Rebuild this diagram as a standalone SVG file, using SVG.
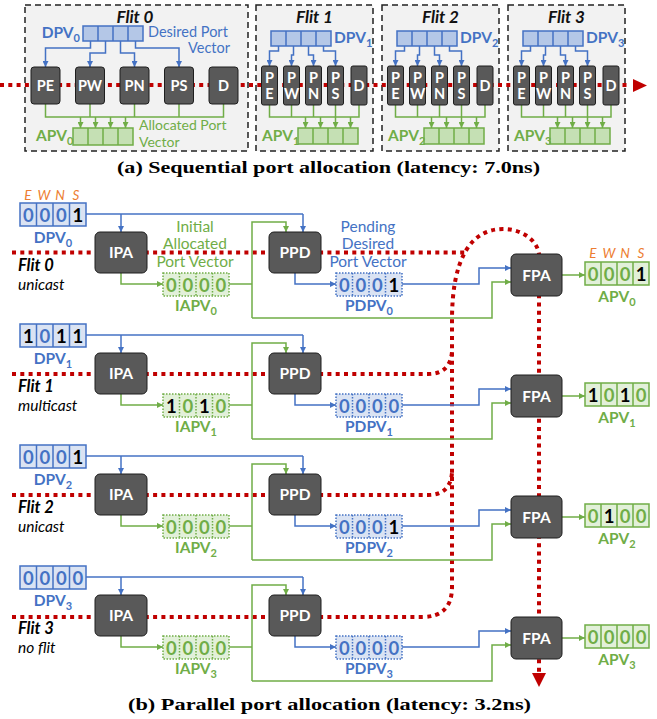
<svg xmlns="http://www.w3.org/2000/svg" width="657" height="719" viewBox="0 0 657 719">
<style>
text{font-family:Lato,"Open Sans","DejaVu Sans",sans-serif}
.fb{fill:#f2f2f2;stroke:#222;stroke-width:1.5;stroke-dasharray:6 4}
.red{fill:none;stroke:#c00000;stroke-width:4;stroke-dasharray:4 4.3}
.bl{fill:none;stroke:#4472c4;stroke-width:1.5}
.gr{fill:none;stroke:#70ad47;stroke-width:1.5}
.ba{marker-end:url(#ab)}
.ga{marker-end:url(#ag)}
.nd{fill:#595959;stroke:#1e1e1e;stroke-width:1}
.nt{fill:#fff;font-weight:bold;font-size:14.5px;text-anchor:middle}
.bt{fill:#fff;font-weight:bold;font-size:15.5px;text-anchor:middle}
.ttl{font-weight:bold;font-style:italic;font-size:17px;fill:#111;text-anchor:middle}
.vb{fill:#b4c7e7;stroke:#4472c4;stroke-width:1.5}
.vg{fill:#c5e0b4;stroke:#70ad47;stroke-width:1.5}
.vb2{fill:#dae3f3;stroke:#4472c4;stroke-width:1.5}
.vg2{fill:#e2f0d9;stroke:#70ad47;stroke-width:1.5}
.vbd{fill:#dae3f3;stroke:#4472c4;stroke-width:1.5;stroke-dasharray:1.5 1.5}
.vgd{fill:#e2f0d9;stroke:#70ad47;stroke-width:1.5;stroke-dasharray:1.5 1.5}
.lb{fill:#4472c4;font-weight:bold;font-size:15.5px}
.lg{fill:#70ad47;font-weight:bold;font-size:15.5px}
.tb{fill:#4472c4;font-size:14.5px}
.tg{fill:#70ad47;font-size:14px}
.tb2{fill:#4472c4;font-size:15.5px;text-anchor:middle}
.tg2{fill:#70ad47;font-size:15.5px;text-anchor:middle}
.d{font-weight:bold;font-size:18.5px;text-anchor:middle}
.db{fill:#4472c4}.dg{fill:#70ad47}.dk{fill:#000}
.or{fill:#ed7d31;font-style:italic;font-size:13.5px;text-anchor:middle}
.fl{font-weight:bold;font-style:italic;font-size:16.5px;fill:#000}
.fs{font-style:italic;font-size:15.5px;fill:#000}
.cap{font-family:"Liberation Serif","Times New Roman",serif;font-weight:bold;font-size:16px;fill:#000;text-anchor:middle}
</style>
<defs>
<marker id="ab" viewBox="0 0 8 8" refX="8" refY="4" markerWidth="6" markerHeight="6" markerUnits="userSpaceOnUse" orient="auto"><path d="M0,0 L8,4 L0,8 z" fill="#4472c4"/></marker>
<marker id="ag" viewBox="0 0 8 8" refX="8" refY="4" markerWidth="6" markerHeight="6" markerUnits="userSpaceOnUse" orient="auto"><path d="M0,0 L8,4 L0,8 z" fill="#70ad47"/></marker>
</defs>

<!-- ===== (a) Sequential ===== -->
<g id="flit-boxes">
<rect class="fb" x="25" y="5" width="223" height="146"/>
<rect class="fb" x="256" y="5" width="117" height="146"/>
<rect class="fb" x="382" y="5" width="117" height="146"/>
<rect class="fb" x="508" y="5" width="117" height="146"/>
<text class="ttl" x="135" y="23">Flit 0</text>
<text class="ttl" x="314.5" y="23">Flit 1</text>
<text class="ttl" x="440.5" y="23">Flit 2</text>
<text class="ttl" x="566.5" y="23">Flit 3</text>
</g>

<g id="top-connectors">
<path class="red" d="M0 85 H629"/>
<polygon points="633,79 647,85.5 633,92" fill="#c00000"/>
<!-- flit 0 -->
<path class="bl ba" d="M90.5 41 V48 H45.5 V67"/>
<path class="bl ba" d="M105.5 41 V53 H90 V67"/>
<path class="bl ba" d="M120.5 41 V53 H134.5 V67"/>
<path class="bl ba" d="M135.5 41 V48 H179 V67"/>
<path class="gr" d="M45.5 104 V117 H223.5 V104 M90 104 V117 M134.5 104 V117 M179 104 V117"/>
<path class="gr ga" d="M80.5 117 V128"/>
<path class="gr ga" d="M95.5 117 V128"/>
<path class="gr ga" d="M110.5 117 V128"/>
<path class="gr ga" d="M125.5 117 V128"/>
<!-- flit 1 -->
<path class="bl ba" d="M278.5 46 V51 H269.5 V66"/>
<path class="bl ba" d="M293.5 46 V55 H291.5 V66"/>
<path class="bl ba" d="M308.5 46 V55 H313.5 V66"/>
<path class="bl ba" d="M323.5 46 V51 H335.5 V66"/>
<path class="gr" d="M269.5 105 V117 H359 V105 M291.5 105 V117 M313.5 105 V117 M335.5 105 V117"/>
<path class="gr ga" d="M305.5 117 V128"/>
<path class="gr ga" d="M320.5 117 V128"/>
<path class="gr ga" d="M335.5 117 V128"/>
<path class="gr ga" d="M350.5 117 V128"/>
<!-- flit 2 -->
<path class="bl ba" d="M404.5 46 V51 H395.5 V66"/>
<path class="bl ba" d="M419.5 46 V55 H417.5 V66"/>
<path class="bl ba" d="M434.5 46 V55 H439.5 V66"/>
<path class="bl ba" d="M449.5 46 V51 H461.5 V66"/>
<path class="gr" d="M395.5 105 V117 H485 V105 M417.5 105 V117 M439.5 105 V117 M461.5 105 V117"/>
<path class="gr ga" d="M431.5 117 V128"/>
<path class="gr ga" d="M446.5 117 V128"/>
<path class="gr ga" d="M461.5 117 V128"/>
<path class="gr ga" d="M476.5 117 V128"/>
<!-- flit 3 -->
<path class="bl ba" d="M530.5 46 V51 H521.5 V66"/>
<path class="bl ba" d="M545.5 46 V55 H543.5 V66"/>
<path class="bl ba" d="M560.5 46 V55 H565.5 V66"/>
<path class="bl ba" d="M575.5 46 V51 H587.5 V66"/>
<path class="gr" d="M521.5 105 V117 H611 V105 M543.5 105 V117 M565.5 105 V117 M587.5 105 V117"/>
<path class="gr ga" d="M557.5 117 V128"/>
<path class="gr ga" d="M572.5 117 V128"/>
<path class="gr ga" d="M587.5 117 V128"/>
<path class="gr ga" d="M602.5 117 V128"/>
</g>

<!-- flit 0 nodes -->
<g id="f0-dpv"><rect class="vb" x="83" y="26" width="60" height="15"/><path class="bl" d="M98 26 V41 M113 26 V41 M128 26 V41"/>
<text class="lb" x="80" y="38" text-anchor="end">DPV<tspan font-size="11" dy="4">0</tspan></text>
<text class="tb" x="148" y="37">Desired Port</text><text class="tb" x="230" y="53" text-anchor="end">Vector</text></g>
<g id="f0-PE"><rect class="nd" x="31" y="67" width="29" height="37" rx="3"/><text class="nt" x="45.5" y="90.5">PE</text></g>
<g id="f0-PW"><rect class="nd" x="75.5" y="67" width="29" height="37" rx="3"/><text class="nt" x="90" y="90.5">PW</text></g>
<g id="f0-PN"><rect class="nd" x="120" y="67" width="29" height="37" rx="3"/><text class="nt" x="134.5" y="90.5">PN</text></g>
<g id="f0-PS"><rect class="nd" x="164.5" y="67" width="29" height="37" rx="3"/><text class="nt" x="179" y="90.5">PS</text></g>
<g id="f0-D"><rect class="nd" x="209" y="67" width="29" height="37" rx="3"/><text class="nt" x="223.5" y="90.5">D</text></g>
<g id="f0-apv"><rect class="vg" x="73" y="128" width="60" height="17"/><path class="gr" d="M88 128 V145 M103 128 V145 M118 128 V145"/>
<text class="lg" x="36" y="141">APV<tspan font-size="11" dy="4">0</tspan></text>
<text class="tg" x="139" y="130">Allocated Port</text><text class="tg" x="139" y="147">Vector</text></g>

<!-- flit 1 -->
<g id="f1-dpv"><rect class="vb" x="271" y="31" width="60" height="15"/><path class="bl" d="M286 31 V46 M301 31 V46 M316 31 V46"/>
<text class="lb" x="334" y="43">DPV<tspan font-size="11" dy="4">1</tspan></text></g>
<g id="f1-PE"><rect class="nd" x="261.5" y="66" width="16" height="39" rx="2"/><text class="nt" x="269.5" y="83">P</text><text class="nt" x="269.5" y="99">E</text></g>
<g id="f1-PW"><rect class="nd" x="283.5" y="66" width="16" height="39" rx="2"/><text class="nt" x="291.5" y="83">P</text><text class="nt" x="291.5" y="99">W</text></g>
<g id="f1-PN"><rect class="nd" x="305.5" y="66" width="16" height="39" rx="2"/><text class="nt" x="313.5" y="83">P</text><text class="nt" x="313.5" y="99">N</text></g>
<g id="f1-PS"><rect class="nd" x="327.5" y="66" width="16" height="39" rx="2"/><text class="nt" x="335.5" y="83">P</text><text class="nt" x="335.5" y="99">S</text></g>
<g id="f1-D"><rect class="nd" x="351" y="66" width="16" height="39" rx="2"/><text class="nt" x="359" y="91">D</text></g>
<g id="f1-apv"><rect class="vg" x="298" y="128" width="60" height="16"/><path class="gr" d="M313 128 V144 M328 128 V144 M343 128 V144"/>
<text class="lg" x="262" y="141">APV<tspan font-size="11" dy="4">1</tspan></text></g>

<!-- flit 2 -->
<g id="f2-dpv"><rect class="vb" x="397" y="31" width="60" height="15"/><path class="bl" d="M412 31 V46 M427 31 V46 M442 31 V46"/>
<text class="lb" x="460" y="43">DPV<tspan font-size="11" dy="4">2</tspan></text></g>
<g id="f2-PE"><rect class="nd" x="387.5" y="66" width="16" height="39" rx="2"/><text class="nt" x="395.5" y="83">P</text><text class="nt" x="395.5" y="99">E</text></g>
<g id="f2-PW"><rect class="nd" x="409.5" y="66" width="16" height="39" rx="2"/><text class="nt" x="417.5" y="83">P</text><text class="nt" x="417.5" y="99">W</text></g>
<g id="f2-PN"><rect class="nd" x="431.5" y="66" width="16" height="39" rx="2"/><text class="nt" x="439.5" y="83">P</text><text class="nt" x="439.5" y="99">N</text></g>
<g id="f2-PS"><rect class="nd" x="453.5" y="66" width="16" height="39" rx="2"/><text class="nt" x="461.5" y="83">P</text><text class="nt" x="461.5" y="99">S</text></g>
<g id="f2-D"><rect class="nd" x="477" y="66" width="16" height="39" rx="2"/><text class="nt" x="485" y="91">D</text></g>
<g id="f2-apv"><rect class="vg" x="424" y="128" width="60" height="16"/><path class="gr" d="M439 128 V144 M454 128 V144 M469 128 V144"/>
<text class="lg" x="388" y="141">APV<tspan font-size="11" dy="4">2</tspan></text></g>

<!-- flit 3 -->
<g id="f3-dpv"><rect class="vb" x="523" y="31" width="60" height="15"/><path class="bl" d="M538 31 V46 M553 31 V46 M568 31 V46"/>
<text class="lb" x="586" y="43">DPV<tspan font-size="11" dy="4">3</tspan></text></g>
<g id="f3-PE"><rect class="nd" x="513.5" y="66" width="16" height="39" rx="2"/><text class="nt" x="521.5" y="83">P</text><text class="nt" x="521.5" y="99">E</text></g>
<g id="f3-PW"><rect class="nd" x="535.5" y="66" width="16" height="39" rx="2"/><text class="nt" x="543.5" y="83">P</text><text class="nt" x="543.5" y="99">W</text></g>
<g id="f3-PN"><rect class="nd" x="557.5" y="66" width="16" height="39" rx="2"/><text class="nt" x="565.5" y="83">P</text><text class="nt" x="565.5" y="99">N</text></g>
<g id="f3-PS"><rect class="nd" x="579.5" y="66" width="16" height="39" rx="2"/><text class="nt" x="587.5" y="83">P</text><text class="nt" x="587.5" y="99">S</text></g>
<g id="f3-D"><rect class="nd" x="603" y="66" width="16" height="39" rx="2"/><text class="nt" x="611" y="91">D</text></g>
<g id="f3-apv"><rect class="vg" x="550" y="128" width="60" height="16"/><path class="gr" d="M565 128 V144 M580 128 V144 M595 128 V144"/>
<text class="lg" x="514" y="141">APV<tspan font-size="11" dy="4">3</tspan></text></g>

<text class="cap" x="328.5" y="173" textLength="423" lengthAdjust="spacingAndGlyphs">(a) Sequential port allocation (latency: 7.0ns)</text>

<!-- ===== (b) Parallel ===== -->
<g id="bottom-connectors">
<path class="red" d="M12 252.5 H466"/>
<path class="red" d="M12 374 H428 Q450 374 452 352"/>
<path class="red" d="M12 495 H428 Q450 495 452 473"/>
<path class="red" d="M12 617 H422 Q452 617 452 587 V320 C452 260 470 229 503 229 C522 229 537 240 539 254 V672"/>
<polygon points="532,673 546,673 539,687" fill="#c00000"/>

<!-- row 0 t=203 -->
<path class="bl" d="M86 214 H303"/><path class="bl ba" d="M303 214 V232"/><path class="bl ba" d="M121 214 V232"/>
<path class="gr ga" d="M121 273 V284 H163"/>
<path class="gr" d="M229 284 H252"/>
<path class="gr ga" d="M252 318 V222 H286 V232"/>
<path class="gr ga" d="M252 318 H492 V282 H511"/>
<path class="bl ba" d="M295 273 V284 H336"/>
<path class="bl ba" d="M402 284 H479 V268 H511"/>
<path class="gr ga" d="M562 275 H585"/>
<!-- row 1 t=324 -->
<path class="bl" d="M86 335 H303"/><path class="bl ba" d="M303 335 V353"/><path class="bl ba" d="M121 335 V353"/>
<path class="gr ga" d="M121 394 V405 H163"/>
<path class="gr" d="M229 405 H252"/>
<path class="gr ga" d="M252 439 V343 H286 V353"/>
<path class="gr ga" d="M252 439 H492 V403 H511"/>
<path class="bl ba" d="M295 394 V405 H336"/>
<path class="bl ba" d="M402 405 H479 V389 H511"/>
<path class="gr ga" d="M562 396 H585"/>
<!-- row 2 t=445 -->
<path class="bl" d="M86 456 H303"/><path class="bl ba" d="M303 456 V474"/><path class="bl ba" d="M121 456 V474"/>
<path class="gr ga" d="M121 515 V526 H163"/>
<path class="gr" d="M229 526 H252"/>
<path class="gr ga" d="M252 560 V464 H286 V474"/>
<path class="gr ga" d="M252 560 H492 V524 H511"/>
<path class="bl ba" d="M295 515 V526 H336"/>
<path class="bl ba" d="M402 526 H479 V510 H511"/>
<path class="gr ga" d="M562 517 H585"/>
<!-- row 3 t=566 -->
<path class="bl" d="M86 577 H303"/><path class="bl ba" d="M303 577 V595"/><path class="bl ba" d="M121 577 V595"/>
<path class="gr ga" d="M121 636 V647 H163"/>
<path class="gr" d="M229 647 H252"/>
<path class="gr ga" d="M252 681 V585 H286 V595"/>
<path class="gr ga" d="M252 681 H492 V645 H511"/>
<path class="bl ba" d="M295 636 V647 H336"/>
<path class="bl ba" d="M402 647 H479 V631 H511"/>
<path class="gr ga" d="M562 638 H585"/>
</g>

<g id="labels-b">
<text class="or" x="28" y="200">E</text><text class="or" x="44" y="200">W</text><text class="or" x="60" y="200">N</text><text class="or" x="76" y="200">S</text>
<text class="or" x="593" y="258">E</text><text class="or" x="609" y="258">W</text><text class="or" x="625" y="258">N</text><text class="or" x="641" y="258">S</text>
<text class="tg2" x="195" y="232">Initial</text>
<text class="tg2" x="195" y="249">Allocated</text>
<text class="tg2" x="195" y="267">Port Vector</text>
<text class="tb2" x="368" y="232">Pending</text>
<text class="tb2" x="368" y="249">Desired</text>
<text class="tb2" x="368" y="267">Port Vector</text>
<text class="fl" x="18" y="271">Flit 0</text><text class="fs" x="18" y="290">unicast</text>
<text class="fl" x="18" y="392">Flit 1</text><text class="fs" x="18" y="411">multicast</text>
<text class="fl" x="18" y="513">Flit 2</text><text class="fs" x="18" y="532">unicast</text>
<text class="fl" x="18" y="634">Flit 3</text><text class="fs" x="18" y="653">no flit</text>
</g>

<!-- Row 0 -->
<g id="dpv0"><rect class="vb2" x="20" y="203" width="66" height="23"/><path class="bl" d="M36.5 203 V226 M53 203 V226 M69.5 203 V226"/>
<text class="d db" x="28.25" y="221.5">0</text><text class="d db" x="44.75" y="221.5">0</text><text class="d db" x="61.25" y="221.5">0</text><text class="d dk" x="77.75" y="221.5">1</text>
<text class="lb" x="53" y="243" text-anchor="middle">DPV<tspan font-size="11" dy="4">0</tspan></text></g>
<g id="ipa0"><rect class="nd" x="95" y="232" width="52" height="41" rx="5"/><text class="bt" x="121" y="258">IPA</text></g>
<g id="ppd0"><rect class="nd" x="269" y="232" width="52" height="41" rx="5"/><text class="bt" x="295" y="258">PPD</text></g>
<g id="iapv0"><rect class="vgd" x="163" y="273" width="66" height="23"/><path class="gr" stroke-dasharray="1.5 1.5" d="M179.5 273 V296 M196 273 V296 M212.5 273 V296"/>
<text class="d dg" x="171.25" y="291.5">0</text><text class="d dg" x="187.75" y="291.5">0</text><text class="d dg" x="204.25" y="291.5">0</text><text class="d dg" x="220.75" y="291.5">0</text>
<text class="lg" x="196" y="311" text-anchor="middle">IAPV<tspan font-size="11" dy="4">0</tspan></text></g>
<g id="pdpv0"><rect class="vbd" x="336" y="273" width="66" height="23"/><path class="bl" stroke-dasharray="1.5 1.5" d="M352.5 273 V296 M369 273 V296 M385.5 273 V296"/>
<text class="d db" x="344.25" y="291.5">0</text><text class="d db" x="360.75" y="291.5">0</text><text class="d db" x="377.25" y="291.5">0</text><text class="d dk" x="393.75" y="291.5">1</text>
<text class="lb" x="369" y="311" text-anchor="middle">PDPV<tspan font-size="11" dy="4">0</tspan></text></g>
<g id="fpa0"><rect class="nd" x="511" y="254" width="51" height="42" rx="5"/><text class="bt" x="536.5" y="280.5">FPA</text></g>
<g id="apv0"><rect class="vg2" x="585" y="262" width="64" height="23"/><path class="gr" d="M601 262 V285 M617 262 V285 M633 262 V285"/>
<text class="d dg" x="593" y="280.5">0</text><text class="d dg" x="609" y="280.5">0</text><text class="d dg" x="625" y="280.5">0</text><text class="d dk" x="641" y="280.5">1</text>
<text class="lg" x="617" y="302" text-anchor="middle">APV<tspan font-size="11" dy="4">0</tspan></text></g>

<!-- Row 1 -->
<g id="dpv1"><rect class="vb2" x="20" y="324" width="66" height="23"/><path class="bl" d="M36.5 324 V347 M53 324 V347 M69.5 324 V347"/>
<text class="d dk" x="28.25" y="342.5">1</text><text class="d db" x="44.75" y="342.5">0</text><text class="d dk" x="61.25" y="342.5">1</text><text class="d dk" x="77.75" y="342.5">1</text>
<text class="lb" x="53" y="364" text-anchor="middle">DPV<tspan font-size="11" dy="4">1</tspan></text></g>
<g id="ipa1"><rect class="nd" x="95" y="353" width="52" height="41" rx="5"/><text class="bt" x="121" y="379">IPA</text></g>
<g id="ppd1"><rect class="nd" x="269" y="353" width="52" height="41" rx="5"/><text class="bt" x="295" y="379">PPD</text></g>
<g id="iapv1"><rect class="vgd" x="163" y="394" width="66" height="23"/><path class="gr" stroke-dasharray="1.5 1.5" d="M179.5 394 V417 M196 394 V417 M212.5 394 V417"/>
<text class="d dk" x="171.25" y="412.5">1</text><text class="d dg" x="187.75" y="412.5">0</text><text class="d dk" x="204.25" y="412.5">1</text><text class="d dg" x="220.75" y="412.5">0</text>
<text class="lg" x="196" y="432" text-anchor="middle">IAPV<tspan font-size="11" dy="4">1</tspan></text></g>
<g id="pdpv1"><rect class="vbd" x="336" y="394" width="66" height="23"/><path class="bl" stroke-dasharray="1.5 1.5" d="M352.5 394 V417 M369 394 V417 M385.5 394 V417"/>
<text class="d db" x="344.25" y="412.5">0</text><text class="d db" x="360.75" y="412.5">0</text><text class="d db" x="377.25" y="412.5">0</text><text class="d db" x="393.75" y="412.5">0</text>
<text class="lb" x="369" y="432" text-anchor="middle">PDPV<tspan font-size="11" dy="4">1</tspan></text></g>
<g id="fpa1"><rect class="nd" x="511" y="375" width="51" height="42" rx="5"/><text class="bt" x="536.5" y="401.5">FPA</text></g>
<g id="apv1"><rect class="vg2" x="585" y="383" width="64" height="23"/><path class="gr" d="M601 383 V406 M617 383 V406 M633 383 V406"/>
<text class="d dk" x="593" y="401.5">1</text><text class="d dg" x="609" y="401.5">0</text><text class="d dk" x="625" y="401.5">1</text><text class="d dg" x="641" y="401.5">0</text>
<text class="lg" x="617" y="423" text-anchor="middle">APV<tspan font-size="11" dy="4">1</tspan></text></g>

<!-- Row 2 -->
<g id="dpv2"><rect class="vb2" x="20" y="445" width="66" height="23"/><path class="bl" d="M36.5 445 V468 M53 445 V468 M69.5 445 V468"/>
<text class="d db" x="28.25" y="463.5">0</text><text class="d db" x="44.75" y="463.5">0</text><text class="d db" x="61.25" y="463.5">0</text><text class="d dk" x="77.75" y="463.5">1</text>
<text class="lb" x="53" y="485" text-anchor="middle">DPV<tspan font-size="11" dy="4">2</tspan></text></g>
<g id="ipa2"><rect class="nd" x="95" y="474" width="52" height="41" rx="5"/><text class="bt" x="121" y="500">IPA</text></g>
<g id="ppd2"><rect class="nd" x="269" y="474" width="52" height="41" rx="5"/><text class="bt" x="295" y="500">PPD</text></g>
<g id="iapv2"><rect class="vgd" x="163" y="515" width="66" height="23"/><path class="gr" stroke-dasharray="1.5 1.5" d="M179.5 515 V538 M196 515 V538 M212.5 515 V538"/>
<text class="d dg" x="171.25" y="533.5">0</text><text class="d dg" x="187.75" y="533.5">0</text><text class="d dg" x="204.25" y="533.5">0</text><text class="d dg" x="220.75" y="533.5">0</text>
<text class="lg" x="196" y="553" text-anchor="middle">IAPV<tspan font-size="11" dy="4">2</tspan></text></g>
<g id="pdpv2"><rect class="vbd" x="336" y="515" width="66" height="23"/><path class="bl" stroke-dasharray="1.5 1.5" d="M352.5 515 V538 M369 515 V538 M385.5 515 V538"/>
<text class="d db" x="344.25" y="533.5">0</text><text class="d db" x="360.75" y="533.5">0</text><text class="d db" x="377.25" y="533.5">0</text><text class="d dk" x="393.75" y="533.5">1</text>
<text class="lb" x="369" y="553" text-anchor="middle">PDPV<tspan font-size="11" dy="4">2</tspan></text></g>
<g id="fpa2"><rect class="nd" x="511" y="496" width="51" height="42" rx="5"/><text class="bt" x="536.5" y="522.5">FPA</text></g>
<g id="apv2"><rect class="vg2" x="585" y="504" width="64" height="23"/><path class="gr" d="M601 504 V527 M617 504 V527 M633 504 V527"/>
<text class="d dg" x="593" y="522.5">0</text><text class="d dk" x="609" y="522.5">1</text><text class="d dg" x="625" y="522.5">0</text><text class="d dg" x="641" y="522.5">0</text>
<text class="lg" x="617" y="544" text-anchor="middle">APV<tspan font-size="11" dy="4">2</tspan></text></g>

<!-- Row 3 -->
<g id="dpv3"><rect class="vb2" x="20" y="566" width="66" height="23"/><path class="bl" d="M36.5 566 V589 M53 566 V589 M69.5 566 V589"/>
<text class="d db" x="28.25" y="584.5">0</text><text class="d db" x="44.75" y="584.5">0</text><text class="d db" x="61.25" y="584.5">0</text><text class="d db" x="77.75" y="584.5">0</text>
<text class="lb" x="53" y="606" text-anchor="middle">DPV<tspan font-size="11" dy="4">3</tspan></text></g>
<g id="ipa3"><rect class="nd" x="95" y="595" width="52" height="41" rx="5"/><text class="bt" x="121" y="621">IPA</text></g>
<g id="ppd3"><rect class="nd" x="269" y="595" width="52" height="41" rx="5"/><text class="bt" x="295" y="621">PPD</text></g>
<g id="iapv3"><rect class="vgd" x="163" y="636" width="66" height="23"/><path class="gr" stroke-dasharray="1.5 1.5" d="M179.5 636 V659 M196 636 V659 M212.5 636 V659"/>
<text class="d dg" x="171.25" y="654.5">0</text><text class="d dg" x="187.75" y="654.5">0</text><text class="d dg" x="204.25" y="654.5">0</text><text class="d dg" x="220.75" y="654.5">0</text>
<text class="lg" x="196" y="674" text-anchor="middle">IAPV<tspan font-size="11" dy="4">3</tspan></text></g>
<g id="pdpv3"><rect class="vbd" x="336" y="636" width="66" height="23"/><path class="bl" stroke-dasharray="1.5 1.5" d="M352.5 636 V659 M369 636 V659 M385.5 636 V659"/>
<text class="d db" x="344.25" y="654.5">0</text><text class="d db" x="360.75" y="654.5">0</text><text class="d db" x="377.25" y="654.5">0</text><text class="d db" x="393.75" y="654.5">0</text>
<text class="lb" x="369" y="674" text-anchor="middle">PDPV<tspan font-size="11" dy="4">3</tspan></text></g>
<g id="fpa3"><rect class="nd" x="511" y="617" width="51" height="42" rx="5"/><text class="bt" x="536.5" y="643.5">FPA</text></g>
<g id="apv3"><rect class="vg2" x="585" y="625" width="64" height="23"/><path class="gr" d="M601 625 V648 M617 625 V648 M633 625 V648"/>
<text class="d dg" x="593" y="643.5">0</text><text class="d dg" x="609" y="643.5">0</text><text class="d dg" x="625" y="643.5">0</text><text class="d dg" x="641" y="643.5">0</text>
<text class="lg" x="617" y="665" text-anchor="middle">APV<tspan font-size="11" dy="4">3</tspan></text></g>

<text class="cap" x="329.5" y="710" textLength="403" lengthAdjust="spacingAndGlyphs">(b) Parallel port allocation (latency: 3.2ns)</text>
</svg>
